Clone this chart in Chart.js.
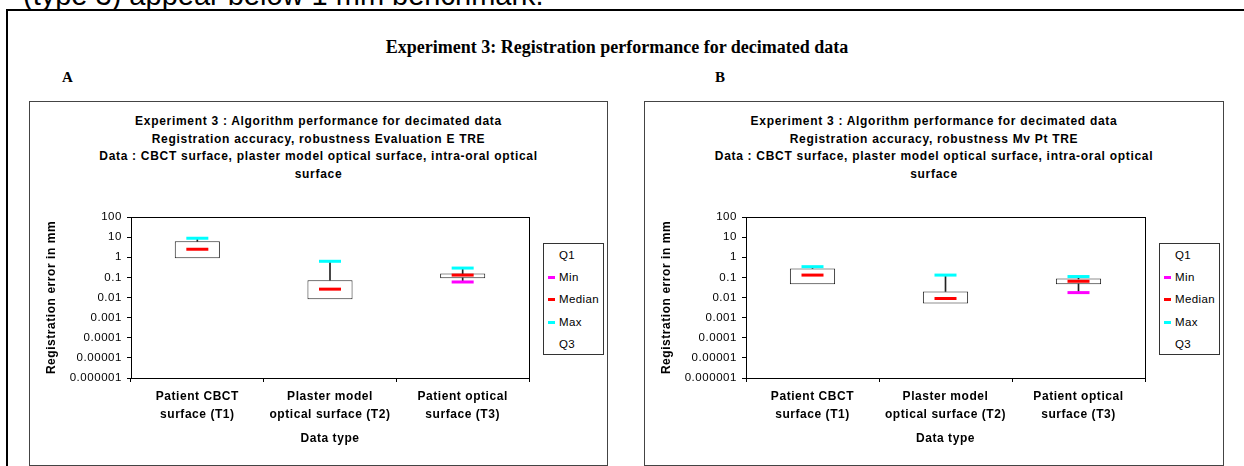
<!DOCTYPE html>
<html>
<head>
<meta charset="utf-8">
<script src="https://cdn.jsdelivr.net/npm/chart.js@4.4.1/dist/chart.umd.min.js"></script>
<style>
    body { margin: 0; width: 1244px; height: 466px; overflow: hidden; background: #fff; position: relative; font-family: "Liberation Sans", Arial, sans-serif; }
    .abs { position: absolute; }
    #doctext { left: 23px; top: -19px; font-size: 29px; line-height: 29px; white-space: nowrap; color: #000; }
    #frame { left: 6px; top: 9px; width: 1300px; height: 520px; border: 2px solid #000; box-sizing: border-box; }
    .serif { font-family: "Liberation Serif", "Times New Roman", serif; font-weight: bold; color: #000; }
    .panel { border: 1px solid #444; box-sizing: border-box; background: #fff; }
    .sub { font-weight: bold; font-size: 12px; line-height: 17.5px; letter-spacing: 0.7px; text-align: center; color: #000; }
    .legend { border: 1px solid #333; box-sizing: border-box; font-size: 11.5px; letter-spacing: 0.4px; background: #fff; }
    .legend .row { height: 22.2px; line-height: 22.2px; position: relative; padding-left: 15px; color: #000; }
    .legend .mk { position: absolute; left: 4px; top: 10px; width: 7px; height: 3px; }
</style>
</head>
<body>
<div id="doctext" class="abs">(type 3) appear below 1 mm benchmark.</div>
<div id="frame" class="abs"></div>
<div class="abs serif" style="left:0;width:1234px;top:37px;font-size:18px;text-align:center;">Experiment 3: Registration performance for decimated data</div>
<div class="abs serif" style="left:62px;top:69px;font-size:15px;">A</div>
<div class="abs serif" style="left:715px;top:69px;font-size:15px;">B</div>

<div id="panelA" class="abs panel" style="left:29px;top:101px;width:579px;height:365px;"></div>
<div id="panelB" class="abs panel" style="left:644px;top:101px;width:580px;height:365px;"></div>

<script>
// chart text
const mainSubtitle = [
    'Experiment 3 : Algorithm performance for decimated data',
    null,
    'Data : CBCT surface, plaster model optical surface, intra-oral optical',
    'surface'
];
const metricA = 'Registration accuracy, robustness Evaluation E TRE';
const metricB = 'Registration accuracy, robustness Mv Pt TRE';

const categories = [
    ['Patient CBCT', 'surface (T1)'],
    ['Plaster model', 'optical surface (T2)'],
    ['Patient optical', 'surface (T3)']
];
const yTicks = [100, 10, 1, 0.1, 0.01, 0.001, 0.0001, 0.00001, 0.000001];
const yTickLabels = ['100', '10', '1', '0.1', '0.01', '0.001', '0.0001', '0.00001', '0.000001'];
const yTitle = 'Registration error in mm';
const xTitle = 'Data type';

const legendItems = ['Q1', 'Min', 'Median', 'Max', 'Q3'];
const legendColors = [null, '#ff00ff', '#ff0000', '#00ffff', null];

// panel A values (mm)
const aMin = [null, null, 0.059];
const aQ1 = [0.88, 0.0082, 0.09];
const aMedian = [2.5, 0.026, 0.13];
const aQ3 = [6.2, 0.072, 0.155];
const aMax = [8.8, 0.63, 0.29];

// panel B values (mm)
const bMin = [null, null, 0.0175];
const bQ1 = [0.045, 0.0051, 0.045];
const bMedian = [0.13, 0.0089, 0.064];
const bQ3 = [0.28, 0.02, 0.087];
const bMax = [0.34, 0.13, 0.11];

Chart.defaults.font.family = '"Liberation Sans", Arial, sans-serif';
Chart.defaults.color = '#000';

// the source charts have wide-set text, canvas letterSpacing imitates it
const wideText = {
    id: 'wideText',
    beforeLayout: (chart) => { chart.ctx.letterSpacing = '0.55px'; },
    beforeDraw: (chart) => { chart.ctx.letterSpacing = '0.55px'; }
};

// plot area frame (top and right sides too)
const frameBox = {
    id: 'frameBox',
    afterDraw: (chart) => {
        const a = chart.chartArea;
        const ctx = chart.ctx;
        ctx.save();
        ctx.strokeStyle = '#000';
        ctx.lineWidth = 1;
        ctx.strokeRect(Math.round(a.left) + 0.5, Math.round(a.top) + 0.5, Math.round(a.right - a.left), Math.round(a.bottom - a.top));
        ctx.restore();
    }
};

const markerSet = (label, values, color) => ({
    type: 'line',
    label: label,
    data: values,
    showLine: false,
    pointStyle: 'line',
    pointRadius: 11,
    pointHoverRadius: 11,
    pointBorderWidth: 3,
    pointBorderColor: color,
    pointBackgroundColor: color,
    order: 0
});

const buildPanel = (panelId, w, h, metric, mins, q1, med, q3, maxs) => {
    const panel = document.getElementById(panelId);

    // subtitle
    const sub = document.createElement('div');
    sub.className = 'abs sub';
    sub.style.cssText = 'left:0;top:11px;width:100%;';
    sub.innerHTML = mainSubtitle.map(t => t === null ? metric : t).join('<br>');
    panel.appendChild(sub);

    // legend
    const leg = document.createElement('div');
    leg.className = 'abs legend';
    leg.style.cssText = 'left:' + (w - 66) + 'px;top:141px;width:61px;height:112px;';
    legendItems.forEach((name, i) => {
        const row = document.createElement('div');
        row.className = 'row';
        row.textContent = name;
        if (legendColors[i]) {
            const mk = document.createElement('span');
            mk.className = 'mk';
            mk.style.background = legendColors[i];
            row.appendChild(mk);
        }
        leg.appendChild(row);
    });
    panel.appendChild(leg);

    const canvas = document.createElement('canvas');
    canvas.width = w;
    canvas.height = h;
    canvas.style.cssText = 'position:absolute;left:-1px;top:-1px;';
    panel.appendChild(canvas);

    // whisker runs min..max, only the part outside the box shows
    const whiskers = q1.map((v, i) => [mins[i] !== null ? mins[i] : q3[i], maxs[i] !== null ? maxs[i] : v]);
    const boxes = q1.map((v, i) => [v, q3[i]]);

    new Chart(canvas, {
        type: 'bar',
        data: {
            labels: categories,
            datasets: [
                markerSet('Min', mins, '#ff00ff'),
                markerSet('Median', med, '#ff0000'),
                markerSet('Max', maxs, '#00ffff'),
                {
                    label: 'Box',
                    data: boxes,
                    grouped: false,
                    backgroundColor: '#fff',
                    borderColor: '#222',
                    borderWidth: 1,
                    borderSkipped: false,
                    categoryPercentage: 1,
                    barPercentage: 0.34,
                    order: 2
                },
                {
                    label: 'Whisker',
                    data: whiskers,
                    grouped: false,
                    backgroundColor: '#222',
                    borderWidth: 0,
                    barThickness: 1,
                    order: 3
                }
            ]
        },
        options: {
            responsive: false,
            animation: false,
            layout: { padding: { left: 0, top: 116, right: 79, bottom: 0 } },
            plugins: {
                legend: { display: false },
                tooltip: { enabled: false }
            },
            scales: {
                x: {
                    type: 'category',
                    offset: true,
                    grid: { display: true, offset: true, drawOnChartArea: false, drawTicks: true, tickLength: 4, color: '#000' },
                    border: { display: false },
                    ticks: {
                        font: { size: 12, weight: 'bold', lineHeight: 1.5 },
                        padding: 6,
                        maxRotation: 0,
                        autoSkip: false
                    },
                    title: {
                        display: true,
                        text: xTitle,
                        font: { size: 12, weight: 'bold', lineHeight: 1.2 },
                        padding: { top: 0, bottom: 20 }
                    },
                    afterFit: (s) => { s.height = 88; }
                },
                y: {
                    type: 'logarithmic',
                    min: 0.000001,
                    max: 100,
                    grid: { display: true, drawOnChartArea: false, drawTicks: true, tickLength: 4, color: '#000' },
                    border: { display: false },
                    afterBuildTicks: (s) => { s.ticks = yTicks.map(v => ({ value: v })); },
                    ticks: {
                        font: { size: 11.5 },
                        padding: 5,
                        autoSkip: false,
                        callback: (v) => {
                            const i = yTicks.findIndex(t => Math.abs(Math.log10(t) - Math.log10(v)) < 1e-6);
                            return i >= 0 ? yTickLabels[i] : '';
                        }
                    },
                    title: {
                        display: true,
                        text: yTitle,
                        font: { size: 12, weight: 'bold', lineHeight: 1.2 },
                        padding: { top: 15, bottom: 0 }
                    },
                    afterFit: (s) => { s.width = 102; }
                }
            }
        },
        plugins: [wideText, frameBox]
    });
};

buildPanel('panelA', 579, 365, metricA, aMin, aQ1, aMedian, aQ3, aMax);
buildPanel('panelB', 580, 365, metricB, bMin, bQ1, bMedian, bQ3, bMax);
</script>
</body>
</html>
